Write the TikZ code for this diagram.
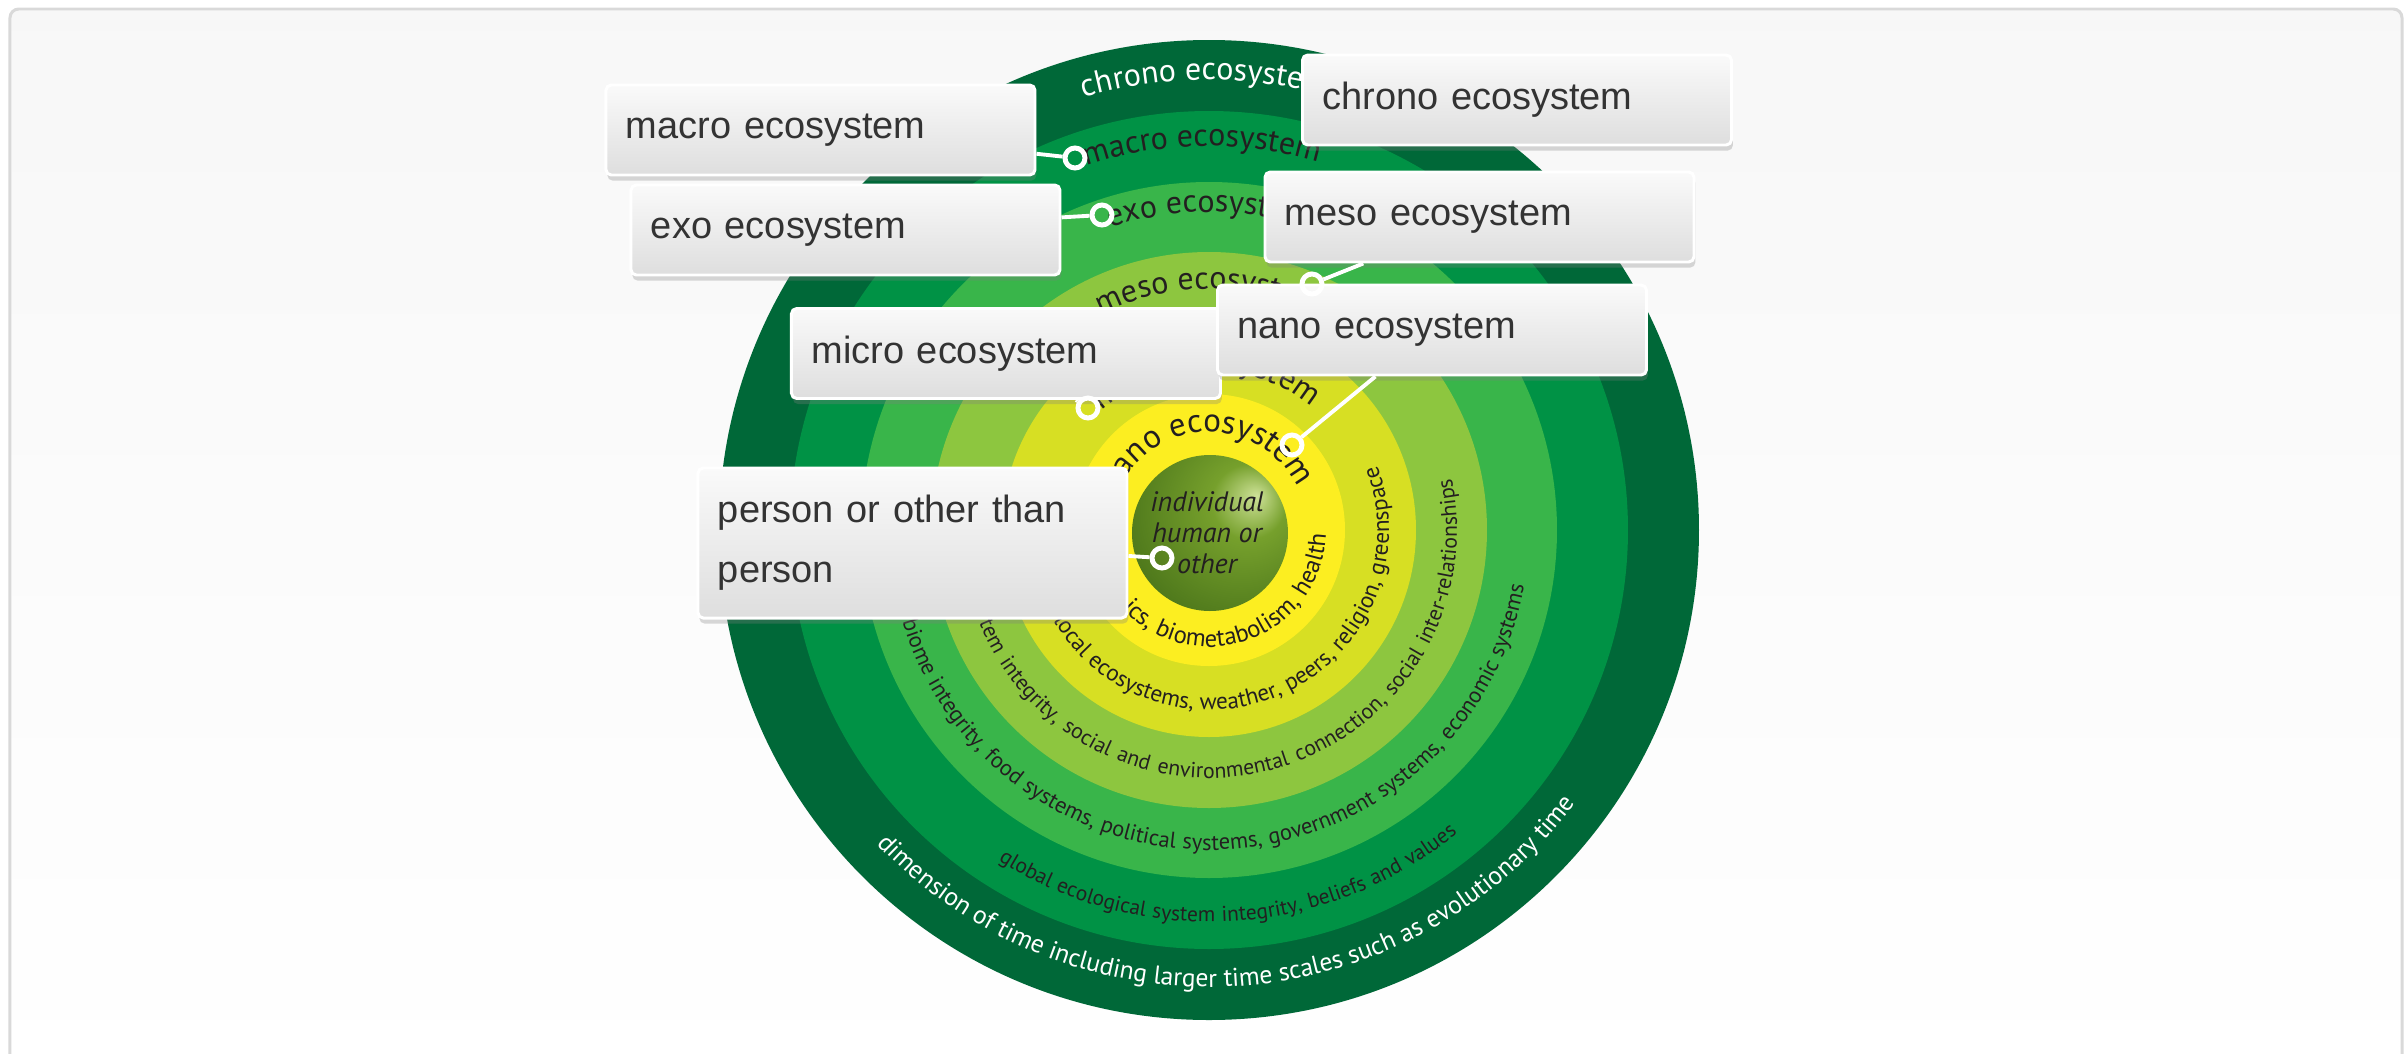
\documentclass[tikz,border=0pt]{standalone}
\usepackage{fontspec}
\setmainfont{Liberation Sans}
\newfontfamily\ringfont{PT Sans}
\usetikzlibrary{decorations.text,shadows}

\definecolor{chronogreen}{RGB}{0,104,56}
\definecolor{macrogreen}{RGB}{0,146,69}
\definecolor{exogreen}{RGB}{57,181,74}
\definecolor{mesogreen}{RGB}{141,198,63}
\definecolor{microyellow}{RGB}{215,223,35}
\definecolor{nanoyellow}{RGB}{252,238,33}
\definecolor{ringtext}{RGB}{35,31,32}
\definecolor{boxtext}{RGB}{51,51,51}
\definecolor{framegray}{RGB}{217,217,217}
\definecolor{ballhi}{RGB}{206,226,152}
\definecolor{ballmid}{RGB}{118,160,44}
\definecolor{balldark}{RGB}{70,112,24}
\definecolor{balledge}{RGB}{50,88,14}

\pgfdeclareradialshading{greenball}{\pgfqpoint{15bp}{12bp}}{%
  color(0bp)=(ballhi); color(12bp)=(ballmid); color(40bp)=(balldark);
  color(72bp)=(balledge)}

\newcommand{\ringsize}[1]{\ringfont\fontsize{#1}{#1}\selectfont\color{ringtext}}

\begin{document}
\begin{tikzpicture}[
    toplabel/.style={decorate,decoration={text along path,text align=center}},
    botlabel/.style={decorate,decoration={text along path,
      text align={fit to path stretching spaces}}},
    callout/.style={draw=white,line width=0.85pt,rounded corners=1.5pt,
      top color=black!2,bottom color=black!13,
      drop shadow={shadow xshift=0.4pt,shadow yshift=-1.6pt,opacity=0.3},
      minimum height=0.9cm,text width=3.89cm,inner xsep=0.2cm,align=left,
      font=\fontsize{10.8}{17}\selectfont,text=boxtext},
    pinring/.style={circle,draw=white,line width=1.4pt,minimum size=0.2cm,
      inner sep=0pt},
    leadline/.style={white,line width=1.1pt}]

  \useasboundingbox (-12.09,-5.23) rectangle (11.98,5.30);
  \clip (-12.09,-5.23) rectangle (11.98,5.30);

  % Page frame
  \draw[framegray,line width=0.85pt,rounded corners=2.5pt,
        top color=black!3,bottom color=white]
        (-11.99,5.21) rectangle (11.93,-5.60);

  % Rings, outside in
  \foreach \rad/\col in {4.90/chronogreen,4.19/macrogreen,3.48/exogreen,
                         2.78/mesogreen,2.07/microyellow,1.36/nanoyellow}
    \fill[\col] (0,0) circle (\rad);

  % Ring names, upper half
  \path[toplabel,decoration={text={|\ringsize{9.1}\color{white}|chrono ecosystem}}]
    (170.5:4.50) arc[start angle=170.5,end angle=10.5,radius=4.50];
  \path[toplabel,decoration={text={|\ringsize{9.1}|macro ecosystem}}]
    (171:3.84) arc[start angle=171,end angle=11,radius=3.84];
  \path[toplabel,decoration={text={|\ringsize{9.1}|exo ecosystem}}]
    (170:3.18) arc[start angle=170,end angle=10,radius=3.18];
  \path[toplabel,decoration={text={|\ringsize{9.1}|meso ecosystem}}]
    (170:2.41) arc[start angle=170,end angle=10,radius=2.41];
  \path[toplabel,decoration={text={|\ringsize{9.1}|micro ecosystem}}]
    (171:1.60) arc[start angle=171,end angle=11,radius=1.60];
  \path[toplabel,decoration={text={|\ringsize{9.4}|nano ecosystem}}]
    (177:0.98) arc[start angle=177,end angle=7,radius=0.98];

  % Ring contents, lower half
  \path[botlabel,decoration={text={|\ringsize{7}|ics, biometabolism, health}}]
    (222:1.17) arc[start angle=222,end angle=358,radius=1.17];
  \path[botlabel,decoration={text={|\ringsize{6.6}|local ecosystems, weather, peers, religion, greenspace}}]
    (210:1.80) arc[start angle=210,end angle=381,radius=1.80];
  \path[botlabel,decoration={text={|\ringsize{6.2}|tem integrity, social and environmental connection, social inter-relationships}}]
    (202:2.48) arc[start angle=202,end angle=372,radius=2.48];
  \path[botlabel,decoration={text={|\ringsize{6.4}|biome integrity, food systems, political systems, government systems, economic systems}}]
    (196.6:3.20) arc[start angle=196.6,end angle=350,radius=3.20];
  \path[botlabel,decoration={text={|\ringsize{6.1}|global ecological system integrity, beliefs and values}}]
    (237.5:3.92) arc[start angle=237.5,end angle=309.3,radius=3.92];
  \path[botlabel,decoration={text={|\ringsize{7.3}\color{white}|dimension of time including larger time scales such as evolutionary time}}]
    (223.4:4.57) arc[start angle=223.4,end angle=323.2,radius=4.57];

  % Core
  \shade[shading=greenball] (0.01,-0.03) circle (0.78);
  \node[font=\ringfont\itshape\fontsize{8}{8.8}\selectfont,text=ringtext,
        align=center] (core) at (-0.02,-0.03) {individual\\human or\\other};

  % Call-out boxes
  \node[callout] (chrono) at (3.08,4.30) {chrono ecosystem};
  \node[callout] (macro) at (-3.885,4.00) {macro ecosystem};
  \node[callout] (exo) at (-3.635,3.00) {exo ecosystem};
  \node[callout] (meso) at (2.705,3.13) {meso ecosystem};
  \node[callout] (micro) at (-2.03,1.765) {micro ecosystem};
  \node[callout] (nano) at (2.23,2.00) {nano ecosystem};
  \node[callout,minimum height=1.5cm] (person) at (-2.965,-0.13)
        {person or other than\\person};

  % Pins and leads
  \node[pinring] (macropin) at (-1.34,3.72) {};
  \node[pinring] (exopin) at (-1.07,3.15) {};
  \node[pinring] (mesopin) at (1.03,2.46) {};
  \node[pinring] (micropin) at (-1.21,1.22) {};
  \node[pinring] (nanopin) at (0.83,0.85) {};
  \node[pinring] (personpin) at (-0.47,-0.28) {};
  \draw[leadline] (macro) -- (macropin);
  \draw[leadline] (exo) -- (exopin);
  \draw[leadline] (meso) -- (mesopin);
  \draw[leadline] (micro) -- (micropin);
  \draw[leadline] (nano) -- (nanopin);
  \draw[leadline] (person) -- (personpin);
\end{tikzpicture}
\end{document}
